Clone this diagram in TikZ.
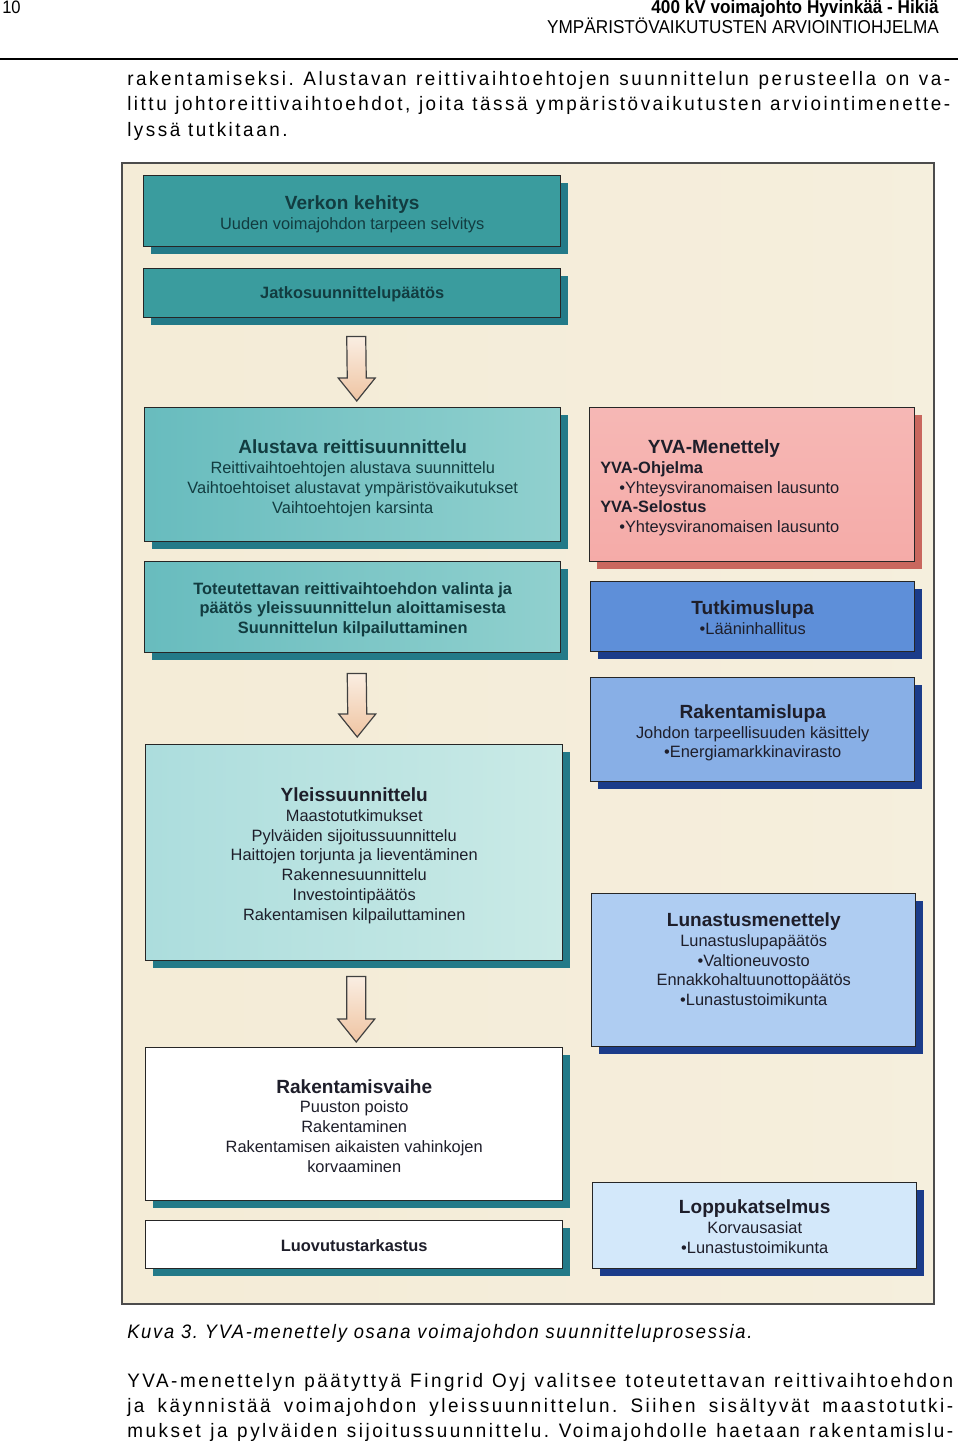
\documentclass[tikz,border=0pt]{standalone}
\usepackage{fontspec}
\setmainfont{Liberation Sans}
\newfontfamily\bodyfont[FakeStretch=0.97,LetterSpace=13]{Liberation Sans}
\newfontfamily\capfont[FakeStretch=0.94,LetterSpace=9]{Liberation Sans}
\newfontfamily\hdrfont[FakeStretch=0.92]{Liberation Sans}
\usetikzlibrary{calc}
\frenchspacing
\definecolor{cream}{HTML}{F4ECD7}
\definecolor{tealA}{HTML}{3A9C9E}
\definecolor{tealB}{HTML}{68BCBE}
\definecolor{tealBr}{HTML}{90D0CE}
\definecolor{tealC}{HTML}{ACDDDD}
\definecolor{tealCr}{HTML}{CAEAE6}
\definecolor{tealS}{HTML}{237A88}
\definecolor{pinkF}{HTML}{F5ABA8}
\definecolor{pinkS}{HTML}{C9675E}
\definecolor{blueA}{HTML}{5E8FD9}
\definecolor{blueB}{HTML}{88AFE6}
\definecolor{blueC}{HTML}{AFCDF2}
\definecolor{blueD}{HTML}{D3E8FA}
\definecolor{blueS}{HTML}{1B3C8A}
\definecolor{txtT}{HTML}{123C40}
\definecolor{txtD}{HTML}{1E1E2A}
\definecolor{arrowF}{HTML}{EFC4A2}
\definecolor{arrowL}{HTML}{FAEEE2}
% name, x1, y1, x2, y2, fill options, shadow colour, text options, text
\newcommand\flowbox[9]{%
  \fill[#7] (#2+8,#3+8) rectangle (#4+8,#5+8);
  \node[fbox, #6, minimum width={(#4-#2)*0.75pt}, minimum height={(#5-#3)*0.75pt}] (#1) at (#2,#3) {};
  \node[ftext, #8] (#1-t) at (#1.center) {#9};
}
\newcommand\blockarrow[2]{% start, end coordinates
  \draw[arrowstyle] ($(#1)+(-9.5,0)$) -- ($(#2)+(-9.5,-23)$) -- ($(#2)+(-18.5,-23)$) -- (#2)
    -- ($(#2)+(18.5,-23)$) -- ($(#2)+(9.5,-23)$) -- ($(#1)+(9.5,0)$) -- cycle;
}
\newcommand\ttl[1]{{\fontsize{14.3}{16}\selectfont\bfseries #1}\\[0pt]}
\begin{document}
\begin{tikzpicture}[x=0.75pt,y=-0.75pt,
  fbox/.style={draw=black!85, line width=1.1pt, inner sep=0pt, anchor=north west},
  ftext/.style={inner sep=0pt, align=center, text=txtD, font=\fontsize{12.3}{14.8}\selectfont},
  dn/.style={yshift={-#1*0.75pt}},
  arrowstyle/.style={draw=black!75, line width=0.9pt, top color=arrowL, bottom color=arrowF, line join=miter},
  bodytxt/.style={anchor=base west, inner sep=0pt, font=\bodyfont\fontsize{14.6}{18}\selectfont\frenchspacing},
  yvaline/.style={anchor=base west, inner sep=0pt, text=txtD, font=\fontsize{12.3}{14}\selectfont}
]
\useasboundingbox (0,0) rectangle (960,1444);
\fill[white] (0,0) rectangle (960,1444);

% header
\node[anchor=base west, inner sep=0pt, font=\hdrfont\fontsize{13.5}{15}\selectfont] (pagenum) at (2,14) {10};
\node[anchor=base east, inner sep=0pt, font=\hdrfont\fontsize{14}{15}\selectfont\bfseries] (hdr1) at (939,14) {400 kV voimajohto Hyvinkää - Hikiä};
\node[anchor=base east, inner sep=0pt, font=\hdrfont\fontsize{14}{15}\selectfont] (hdr2) at (939,34) {YMPÄRISTÖVAIKUTUSTEN ARVIOINTIOHJELMA};
\draw[line width=1.5pt] (0,59) -- (958,59);

% body text top
\node[bodytxt] (p1) at (127,86) {\makebox[617.25pt][s]{rakentamiseksi. Alustavan reittivaihtoehtojen suunnittelun perusteella on va-}};
\node[bodytxt] (p2) at (127,111) {\makebox[617.25pt][s]{littu johtoreittivaihtoehdot, joita tässä ympäristövaikutusten arviointimenette-}};
\node[bodytxt] (p3) at (127,137) {lyssä tutkitaan.};

% figure frame
\fill[cream] (122,163) rectangle (934,1304);
\shade[left color=cream, right color=cream!75!white, opacity=0.6] (122,163) rectangle (934,1304);
\draw[black!70, line width=1.1pt] (122,163) rectangle (934,1304);

% left column
\flowbox{verkko}{143}{175}{560}{246}{fill=tealA}{tealS}{text=txtT, dn=3}{\ttl{Verkon kehitys}Uuden voimajohdon tarpeen selvitys}
\flowbox{jatko}{143}{268}{560}{317}{fill=tealA}{tealS}{text=txtT, dn=1, font=\fontsize{12.3}{14}\selectfont\bfseries}{Jatkosuunnittelupäätös}
\flowbox{alustava}{144}{407}{560}{541}{left color=tealB, right color=tealBr}{tealS}{text=txtT, dn=3.5}{\ttl{Alustava reittisuunnittelu}Reittivaihtoehtojen alustava suunnittelu\\Vaihtoehtoiset alustavat ympäristövaikutukset\\Vaihtoehtojen karsinta}
\flowbox{valinta}{144}{561}{560}{652}{left color=tealB, right color=tealBr}{tealS}{text=txtT, dn=2.5, font=\fontsize{12.3}{14.8}\selectfont\bfseries}{Toteutettavan reittivaihtoehdon valinta ja\\päätös yleissuunnittelun aloittamisesta\\Suunnittelun kilpailuttaminen}
\flowbox{yleis}{145}{744}{562}{960}{left color=tealC, right color=tealCr}{tealS}{dn=3}{\ttl{Yleissuunnittelu}Maastotutkimukset\\Pylväiden sijoitussuunnittelu\\Haittojen torjunta ja lieventäminen\\Rakennesuunnittelu\\Investointipäätös\\Rakentamisen kilpailuttaminen}
\flowbox{rakvaihe}{145}{1047}{562}{1200}{fill=white}{tealS}{dn=1.5}{\ttl{Rakentamisvaihe}Puuston poisto\\Rakentaminen\\Rakentamisen aikaisten vahinkojen\\korvaaminen}
\flowbox{luovutus}{145}{1220}{562}{1268}{fill=white}{tealS}{dn=1, font=\fontsize{12.3}{14}\selectfont\bfseries}{Luovutustarkastus}

% arrows
\blockarrow{$(jatko.south)+(4,18)$}{$(alustava.north)+(4,-6)$}
\blockarrow{$(valinta.south)+(4,20)$}{$(yleis.north)+(3,-7)$}
\blockarrow{$(yleis.south)+(2,15)$}{$(rakvaihe.north)+(2,-5)$}

% right column
\flowbox{yva}{589}{407}{914}{561}{top color=pinkF!85!white, bottom color=pinkF}{pinkS}{}{}
\node[anchor=base, inner sep=0pt, text=txtD, font=\fontsize{14.3}{16}\selectfont\bfseries] (yvat) at (714,453) {YVA-Menettely};
\node[yvaline, font=\fontsize{12.3}{14}\selectfont\bfseries] (yva1) at (600,473) {YVA-Ohjelma};
\node[yvaline] (yva2) at (619,493) {•Yhteysviranomaisen lausunto};
\node[yvaline, font=\fontsize{12.3}{14}\selectfont\bfseries] (yva3) at (600,512) {YVA-Selostus};
\node[yvaline] (yva4) at (619,532) {•Yhteysviranomaisen lausunto};

\flowbox{tutkimus}{590}{581}{914}{651}{fill=blueA}{blueS}{dn=1}{\ttl{Tutkimuslupa}•Lääninhallitus}
\flowbox{rakennus}{590}{677}{914}{781}{fill=blueB}{blueS}{dn=3.2}{\ttl{Rakentamislupa}Johdon tarpeellisuuden käsittely\\•Energiamarkkinavirasto}
\flowbox{lunastus}{591}{893}{915}{1046}{fill=blueC}{blueS}{dn=-11}{\ttl{Lunastusmenettely}Lunastuslupapäätös\\•Valtioneuvosto\\Ennakkohaltuunottopäätös\\•Lunastustoimikunta}
\flowbox{loppu}{592}{1182}{916}{1268}{fill=blueD}{blueS}{dn=0.8}{\ttl{Loppukatselmus}Korvausasiat\\•Lunastustoimikunta}

% caption
\node[anchor=base west, inner sep=0pt, font=\capfont\fontsize{14.6}{18}\selectfont\itshape] (caption) at (127,1338) {Kuva 3. YVA-menettely osana voimajohdon suunnitteluprosessia.};

% body text bottom
\node[bodytxt] (q1) at (127,1387) {\makebox[619.5pt][s]{YVA-menettelyn päätyttyä Fingrid Oyj valitsee toteutettavan reittivaihtoehdon}};
\node[bodytxt] (q2) at (127,1412) {\makebox[619.5pt][s]{ja käynnistää voimajohdon yleissuunnittelun. Siihen sisältyvät maastotutki-}};
\node[bodytxt] (q3) at (127,1437) {\makebox[619.5pt][s]{mukset ja pylväiden sijoitussuunnittelu. Voimajohdolle haetaan rakentamislu-}};
\end{tikzpicture}
\end{document}
